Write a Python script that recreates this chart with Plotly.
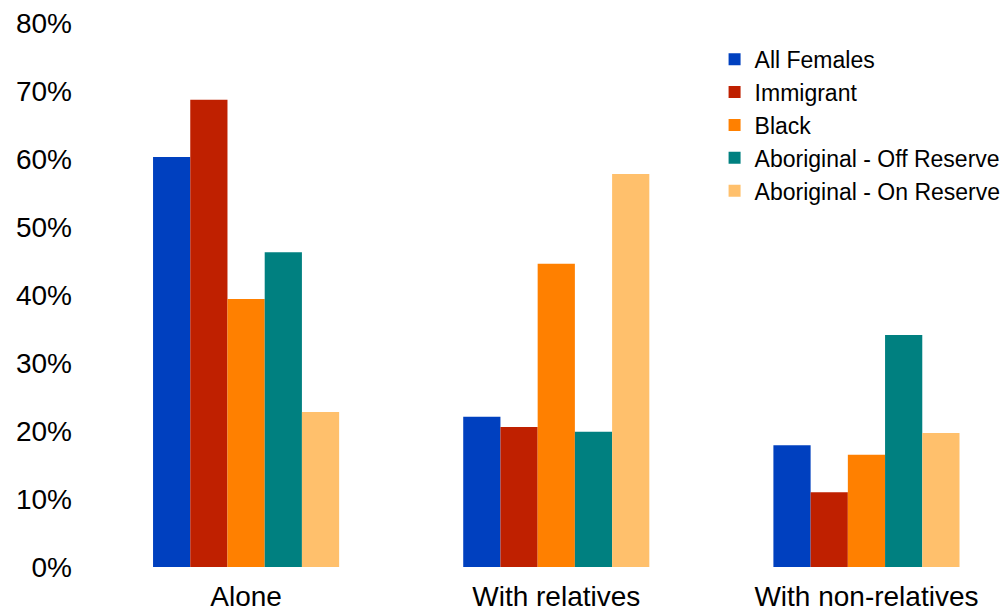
import plotly.graph_objects as go

categories = ["Alone", "With relatives", "With non-relatives"]
series_names = ["All Females", "Immigrant", "Black",
                "Aboriginal - Off Reserve", "Aboriginal - On Reserve"]
all_females = [60.3, 22.1, 17.9]
immigrant = [68.7, 20.6, 11.0]
black = [39.4, 44.6, 16.5]
abo_off = [46.3, 19.9, 34.1]
abo_on = [22.8, 57.8, 19.7]
y_ticks = [0, 10, 20, 30, 40, 50, 60, 70, 80]
y_tick_labels = [f"{v}%" for v in y_ticks]

colors = ["#0040BF", "#BF2000", "#FF8000", "#008080", "#FFC06C"]
series = [all_females, immigrant, black, abo_off, abo_on]

fig = go.Figure()
for name, vals, col in zip(series_names, series, colors):
    fig.add_trace(go.Bar(x=categories, y=vals, name=name,
                         marker=dict(color=col, line=dict(width=0))))

font_family = "Liberation Sans, Arial, sans-serif"
fig.update_layout(
    width=1002, height=611,
    paper_bgcolor="white", plot_bgcolor="white",
    margin=dict(l=91, r=0, t=23, b=44, autoexpand=False),
    barmode="group", bargap=0.4, bargroupgap=0,
    font=dict(family=font_family, color="#000000"),
    showlegend=True,
    legend=dict(x=0.6845, xanchor="left", y=0.973, yanchor="top",
                font=dict(size=23, family=font_family, color="#000000"),
                bgcolor="rgba(0,0,0,0)", tracegroupgap=0,
                itemsizing="constant"),
    xaxis=dict(range=[-0.5, 2.437], showgrid=False, showline=False,
               zeroline=False, ticks="", tickfont=dict(size=28),
               ticklabelstandoff=10, automargin=False),
    yaxis=dict(range=[0, 80], tickvals=y_ticks, ticktext=y_tick_labels,
               showgrid=False, showline=False, zeroline=False, ticks="",
               tickfont=dict(size=28), ticklabelstandoff=18,
               ticklabeloverflow="allow", automargin=False),
)

fig.write_html(
    "out.html",
    config={"displayModeBar": False},
    post_script="document.body.style.margin='0';"
                "document.body.style.overflow='hidden';",
)
